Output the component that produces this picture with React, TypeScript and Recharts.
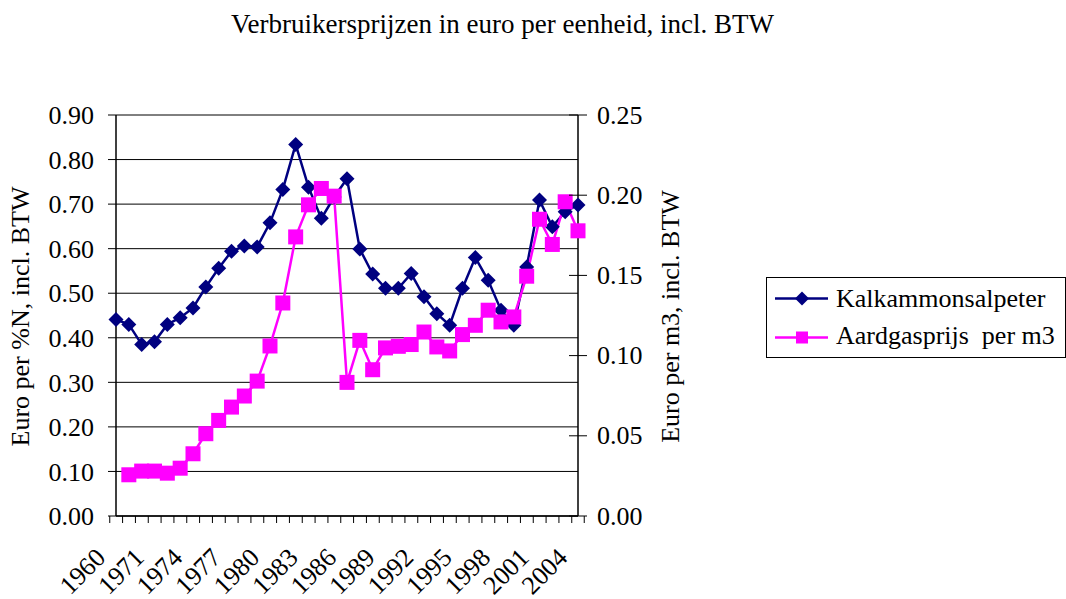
import React from 'react';
import {
  ComposedChart,
  Line,
  XAxis,
  YAxis,
  CartesianGrid,
  Label,
} from 'recharts';

const FONT = "'Liberation Serif', 'Times New Roman', serif";
const NAVY = '#000080';
const MAGENTA = '#FF00FF';
const TXT = { fontFamily: FONT, fontSize: 26, fill: '#000' };

// categories (1960, 1965, then every year 1970-2004)
const years = [
  '1960', '1965', '1970', '1971', '1972', '1973', '1974', '1975', '1976', '1977',
  '1978', '1979', '1980', '1981', '1982', '1983', '1984', '1985', '1986', '1987',
  '1988', '1989', '1990', '1991', '1992', '1993', '1994', '1995', '1996', '1997',
  '1998', '1999', '2000', '2001', '2002', '2003', '2004',
];

// euro per %N (left axis)
const kalkammonsalpeter = [
  0.441, 0.43, 0.385, 0.391, 0.43, 0.445, 0.467, 0.514, 0.556, 0.594,
  0.606, 0.604, 0.658, 0.733, 0.834, 0.738, 0.668, 0.716, 0.757, 0.599,
  0.543, 0.511, 0.511, 0.544, 0.492, 0.454, 0.428, 0.511, 0.58, 0.529,
  0.462, 0.428, 0.559, 0.709, 0.649, 0.683, 0.698,
];

// euro per m3 (right axis)
const aardgasprijs = [
  null, 0.0257, 0.028, 0.028, 0.0267, 0.0298, 0.0388, 0.0513, 0.0596, 0.0679,
  0.0748, 0.0841, 0.106, 0.1328, 0.174, 0.194, 0.2042, 0.1994, 0.0833, 0.1095,
  0.0912, 0.1048, 0.1058, 0.1069, 0.1147, 0.1054, 0.1029, 0.1131, 0.1189, 0.1283,
  0.121, 0.1241, 0.1495, 0.185, 0.1693, 0.1959, 0.1778,
];

const leftTicks = [0, 0.1, 0.2, 0.3, 0.4, 0.5, 0.6, 0.7, 0.8, 0.9];
const rightTicks = [0, 0.05, 0.1, 0.15, 0.2, 0.25];
const LABEL_EVERY = 3;

const data = years.map((year, i) => ({
  year,
  kalk: kalkammonsalpeter[i],
  gas: aardgasprijs[i],
}));

const W = 1066;
const H = 599;
const PLOT_W = 462;
const BAND = PLOT_W / years.length;

const Diamond = (props: any) => {
  const { cx, cy, index } = props;
  if (cx == null || cy == null) return <g key={`kd${index}`} />;
  const r = 7.5;
  return (
    <path
      key={`kd${index}`}
      d={`M${cx},${cy - r}L${cx + r},${cy}L${cx},${cy + r}L${cx - r},${cy}Z`}
      fill={NAVY}
    />
  );
};

const Square = (props: any) => {
  const { cx, cy, index } = props;
  if (cx == null || cy == null) return <g key={`gs${index}`} />;
  return <rect key={`gs${index}`} x={cx - 7.5} y={cy - 7.5} width={15} height={15} fill={MAGENTA} />;
};

// x ticks sit between categories, label every third year
const YearTick = (props: any) => {
  const { x, y, payload, index } = props;
  const left = x - BAND / 2;
  const showLabel = index % LABEL_EVERY === 0;
  const tx = x - 9;
  const ty = y + 43;
  return (
    <g>
      <line x1={left} y1={y} x2={left} y2={y + 7} stroke="#000" />
      {index === years.length - 1 && (
        <line x1={x + BAND / 2} y1={y} x2={x + BAND / 2} y2={y + 7} stroke="#000" />
      )}
      {showLabel && (
        <text
          x={tx}
          y={ty}
          textAnchor="end"
          style={TXT}
          transform={`rotate(-45, ${tx}, ${ty})`}
        >
          {payload.value}
        </text>
      )}
    </g>
  );
};

// right axis: cross ticks
const RightTick = (props: any) => {
  const { x, y, payload } = props;
  return (
    <g>
      <line x1={x - 9} y1={y} x2={x + 9} y2={y} stroke="#000" />
      <text x={x + 19} y={y} dominantBaseline="central" style={TXT}>
        {Number(payload.value).toFixed(2)}
      </text>
    </g>
  );
};

const axisTitle = (text: string, dx: number) => (props: any) => {
  const { viewBox } = props;
  const cx = viewBox.x + dx;
  const cy = viewBox.y + viewBox.height / 2 + 1;
  return (
    <text
      x={cx}
      y={cy}
      textAnchor="middle"
      style={TXT}
      transform={`rotate(-90, ${cx}, ${cy})`}
    >
      {text}
    </text>
  );
};

export default function App() {
  return (
    <div style={{ position: 'absolute', left: 0, top: 0, width: W, height: H, background: '#fff', fontFamily: FONT }}>
      <div
        style={{
          position: 'absolute',
          left: 0,
          top: 9,
          width: 1005,
          textAlign: 'center',
          fontSize: 27,
          color: '#000',
          lineHeight: 'normal',
        }}
      >
        Verbruikersprijzen in euro per eenheid, incl. BTW
      </div>

      <ComposedChart
        width={W}
        height={H}
        data={data}
        margin={{ top: 115, right: 388, bottom: 0, left: 0 }}
        style={{ fontFamily: FONT }}
      >
        <CartesianGrid yAxisId="left" vertical={false} stroke="#000" strokeWidth={1} />
        <XAxis
          dataKey="year"
          height={83}
          interval={0}
          tickLine={false}
          tickSize={0}
          tickMargin={0}
          axisLine={{ stroke: '#000', strokeWidth: 1.5 }}
          tick={<YearTick />}
        />
        <YAxis
          yAxisId="left"
          width={116}
          domain={[0, 0.9]}
          ticks={leftTicks}
          interval={0}
          tickFormatter={(v: number) => v.toFixed(2)}
          tick={{ fontSize: 26, fill: '#000', style: { fontFamily: FONT } }}
          tickSize={8}
          tickMargin={14}
          tickLine={{ stroke: '#000' }}
          axisLine={{ stroke: '#000', strokeWidth: 1.5 }}
        >
          <Label content={axisTitle('Euro per %N, incl. BTW', 29)} />
        </YAxis>
        <YAxis
          yAxisId="right"
          orientation="right"
          width={100}
          domain={[0, 0.25]}
          ticks={rightTicks}
          interval={0}
          tick={<RightTick />}
          tickSize={0}
          tickMargin={0}
          tickLine={false}
          axisLine={{ stroke: '#000', strokeWidth: 1.5 }}
        >
          <Label content={axisTitle('Euro per m3, incl. BTW', 101)} />
        </YAxis>
        <Line
          yAxisId="left"
          type="linear"
          dataKey="kalk"
          stroke={NAVY}
          strokeWidth={2.5}
          dot={Diamond}
          activeDot={false}
          isAnimationActive={false}
        />
        <Line
          yAxisId="right"
          type="linear"
          dataKey="gas"
          stroke={MAGENTA}
          strokeWidth={2.5}
          dot={Square}
          activeDot={false}
          isAnimationActive={false}
        />
      </ComposedChart>

      <svg
        style={{ position: 'absolute', left: 766, top: 277, fontFamily: FONT }}
        width={300}
        height={81}
      >
        <rect x={0.5} y={0.5} width={299} height={80} fill="#fff" stroke="#000" />
        <line x1={9} y1={21.5} x2={62} y2={21.5} stroke={NAVY} strokeWidth={2.5} />
        <path d="M36,14.5L43,21.5L36,28.5L29,21.5Z" fill={NAVY} />
        <text x={70} y={30} style={TXT}>
          Kalkammonsalpeter
        </text>
        <line x1={9} y1={60.5} x2={62} y2={60.5} stroke={MAGENTA} strokeWidth={2.5} />
        <rect x={30} y={54.5} width={12} height={12} fill={MAGENTA} />
        <text x={70} y={67} style={{ ...TXT, whiteSpace: 'pre' }}>
          {'Aardgasprijs  per m3'}
        </text>
      </svg>
    </div>
  );
}
